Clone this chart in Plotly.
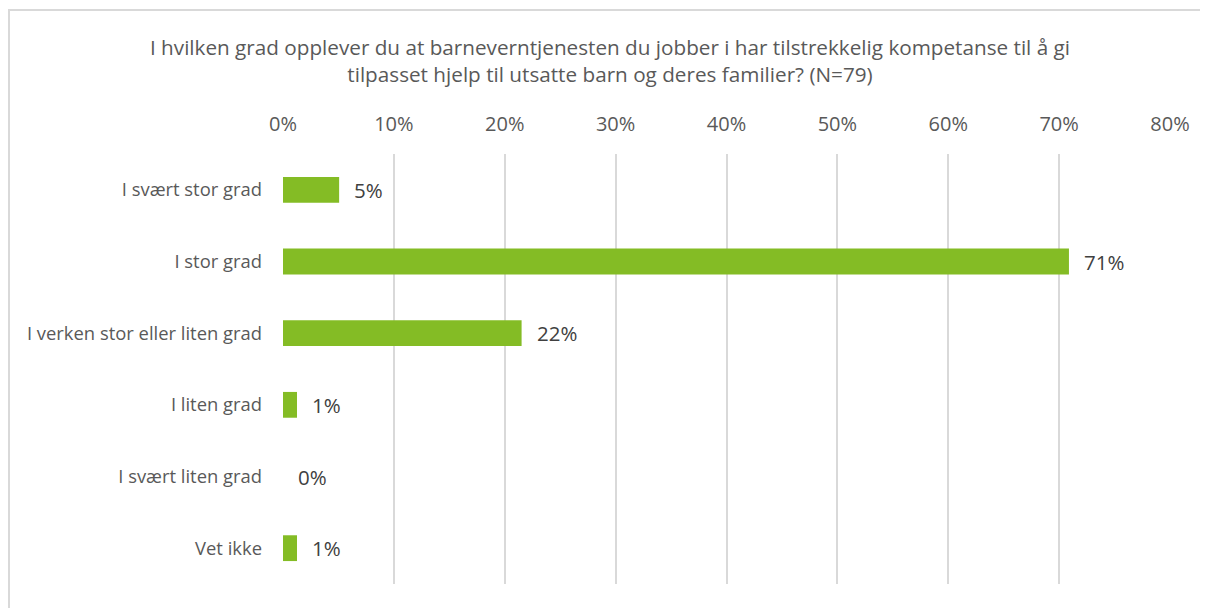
import plotly.graph_objects as go

categories = ["I svært stor grad", "I stor grad", "I verken stor eller liten grad",
              "I liten grad", "I svært liten grad", "Vet ikke"]
values = [4/79, 56/79, 17/79, 1/79, 0.0, 1/79]
labels = ["5%", "71%", "22%", "1%", "0%", "1%"]
tick_vals = [0, 0.1, 0.2, 0.3, 0.4, 0.5, 0.6, 0.7, 0.8]
tick_text = ["0%", "10%", "20%", "30%", "40%", "50%", "60%", "70%", "80%"]
title_text = ("I hvilken grad opplever du at barneverntjenesten du jobber i har tilstrekkelig kompetanse til å gi<br>"
              "tilpasset hjelp til utsatte barn og deres familier? (N=79)")

FONT = "Open Sans"
GRAY = "#595959"

W, H = 1200, 600
L, R, T, B = 275, 38, 146, 24
PW, PH = W - L - R, H - T - B

fig = go.Figure()
fig.add_trace(go.Bar(
    y=categories, x=values, orientation="h",
    marker=dict(color="#84BC25", line=dict(width=0)),
    width=0.36, hoverinfo="skip",
))

for c, v, t in zip(categories, values, labels):
    fig.add_annotation(x=v, y=c, xref="x", yref="y", text=t, showarrow=False,
                       xanchor="left", xshift=13,
                       font=dict(family=FONT, size=20.5, color="#404040"))

fig.update_layout(
    width=W, height=H,
    paper_bgcolor="white", plot_bgcolor="white",
    margin=dict(l=L, r=R, t=T, b=B),
    showlegend=False,
    title=dict(text=title_text, x=602/W, xanchor="center", y=1 - 47/H, yanchor="top",
               font=dict(family=FONT, size=20.7, color=GRAY)),
    xaxis=dict(side="top", range=[0, 0.8], tickvals=tick_vals, ticktext=tick_text,
               showgrid=True, gridcolor="#d9d9d9", gridwidth=2, zeroline=False,
               showline=False, ticks="", ticklabelstandoff=18,
               tickfont=dict(family=FONT, size=20, color=GRAY)),
    yaxis=dict(autorange="reversed", showgrid=False, zeroline=False, showline=False,
               ticks="", ticklabelstandoff=20,
               tickfont=dict(family=FONT, size=18.4, color=GRAY)),
    shapes=[dict(type="rect", xref="paper", yref="paper",
                 x0=(1 - L) / PW, x1=1.2, y0=-0.2, y1=(H - 2 - B) / PH,
                 line=dict(color="#d9d9d9", width=2), fillcolor="rgba(0,0,0,0)", layer="below")],
)

fig.write_html("out.html")
